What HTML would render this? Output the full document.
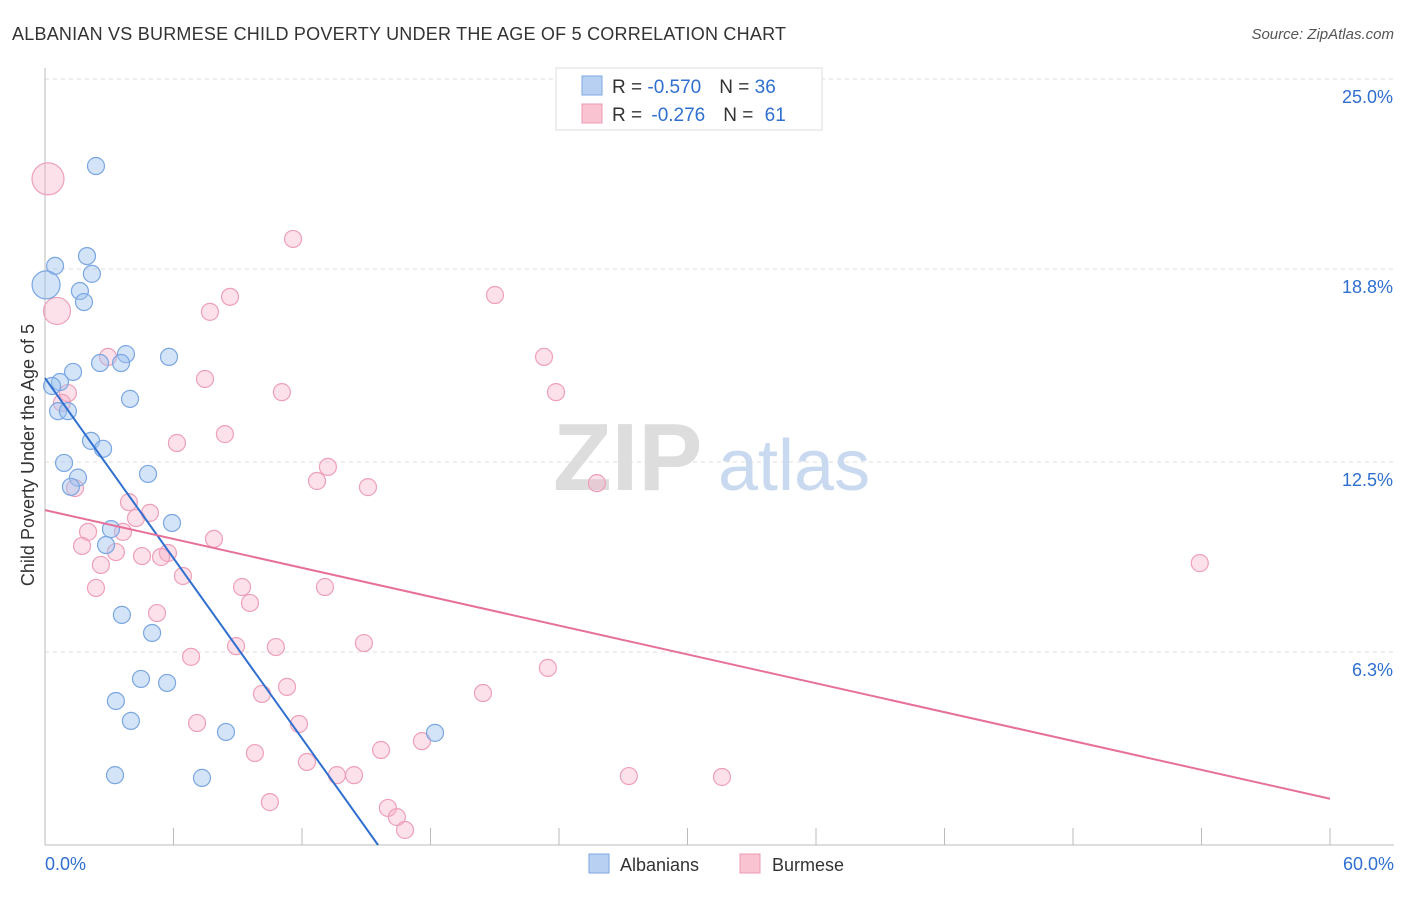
<!DOCTYPE html>
<html><head><meta charset="utf-8"><style>
body{margin:0;background:#fff;font-family:"Liberation Sans",sans-serif}
svg text{font-family:"Liberation Sans",sans-serif}
</style></head><body>
<svg width="1406" height="892" viewBox="0 0 1406 892">
<text x="12" y="40" font-size="18" fill="#333" textLength="774">ALBANIAN VS BURMESE CHILD POVERTY UNDER THE AGE OF 5 CORRELATION CHART</text>
<text x="1394" y="39" font-size="15" fill="#555" font-style="italic" text-anchor="end">Source: ZipAtlas.com</text>
<g id="grid"></g>
<g>
<text x="553" y="490" font-size="96" font-family="Liberation Serif" fill="#ddd" font-weight="bold">ZIP</text>
<text x="718" y="490" font-size="72" fill="#c9d9ef">atlas</text>
</g>
<g id="axes"></g>
<g id="pts"></g>
<g id="lines"></g>
<text transform="translate(34,455) rotate(-90)" font-size="18" fill="#333" text-anchor="middle">Child Poverty Under the Age of 5</text>
<g>
<rect x="556" y="68" width="266" height="62" fill="#fff" stroke="#ddd"/>
<rect x="582" y="76" width="20" height="19" fill="#b8d1f3" stroke="#7fa7e0"/>
<rect x="582" y="104" width="20" height="19" fill="#f9c3d2" stroke="#ec9ab2"/>
<text x="612" y="93" font-size="19" fill="#333">R = <tspan fill="#2f6fd0">-0.570</tspan><tspan dx="18">N = </tspan><tspan fill="#2f6fd0">36</tspan></text>
<text x="612" y="121" font-size="19" fill="#333">R = <tspan fill="#2f6fd0" dx="4">-0.276</tspan><tspan dx="18">N = </tspan><tspan fill="#2f6fd0" dx="6">61</tspan></text>
</g>
<g>
<rect x="589" y="854" width="20" height="19" fill="#b8d1f3" stroke="#7fa7e0"/>
<text x="620" y="871" font-size="18" fill="#333">Albanians</text>
<rect x="740" y="854" width="20" height="19" fill="#f9c3d2" stroke="#ec9ab2"/>
<text x="772" y="871" font-size="18" fill="#333">Burmese</text>
</g>
</svg>
<script>
const yTicks=[25.0,18.8,12.5,6.3];
const yTickLabels=["25.0%","18.8%","12.5%","6.3%"];
const xTickLabels=["0.0%","60.0%"];
const albX=[2.38,0.47,1.96,2.19,1.63,1.82,0.05,3.78,2.57,3.55,5.79,1.31,0.70,0.33,0.61,1.07,3.97,2.15,2.71,0.89,4.81,1.54,1.21,5.93,3.08,2.85,3.59,5.00,4.48,5.70,3.31,4.01,8.45,18.21,3.27,7.33];
const albY=[22.16,18.90,19.22,18.64,18.08,17.72,18.28,16.02,15.73,15.73,15.93,15.44,15.11,14.98,14.16,14.16,14.56,13.19,12.93,12.47,12.11,11.99,11.69,10.51,10.31,9.79,7.51,6.92,5.42,5.29,4.70,4.05,3.69,3.66,2.28,2.19];
const albBig=[6];
const burX=[0.14,0.56,11.58,8.64,7.70,21.01,23.30,2.94,7.47,11.06,23.86,1.07,0.79,8.40,6.16,13.21,12.70,15.08,25.77,1.40,3.92,4.90,4.25,2.01,3.64,1.73,7.89,3.31,4.53,5.74,5.42,2.61,6.44,53.92,2.38,9.20,13.07,9.57,5.23,14.89,8.92,10.78,6.82,23.48,11.30,10.13,20.45,7.10,11.86,9.80,15.69,17.60,12.23,13.63,14.43,27.26,31.61,10.50,16.01,16.43,16.81];
const burY=[21.74,17.43,19.78,17.89,17.40,17.95,15.93,15.93,15.21,14.78,14.78,14.75,14.43,13.41,13.12,12.34,11.88,11.68,11.81,11.65,11.19,10.84,10.67,10.22,10.22,9.76,9.99,9.56,9.43,9.53,9.40,9.14,8.78,9.20,8.39,8.42,8.42,7.90,7.57,6.59,6.49,6.46,6.14,5.78,5.16,4.93,4.96,3.98,3.95,3.00,3.10,3.39,2.71,2.28,2.28,2.25,2.22,1.40,1.21,0.91,0.49];
const burBig=[0,1];
const albTrend=[15.24,-0.98];
const burTrend=[10.93,-0.157];
const NS="http://www.w3.org/2000/svg";
const X0=45,X1=1330,Y0=845,YTOP=79;
const sx=v=>X0+(v/60)*(X1-X0);
const sy=v=>Y0-(v/25)*(Y0-YTOP);
function mk(t,a,p){const e=document.createElementNS(NS,t);for(const k in a)e.setAttribute(k,a[k]);p.appendChild(e);return e;}
const grid=document.getElementById('grid'),axes=document.getElementById('axes'),pts=document.getElementById('pts'),lines=document.getElementById('lines');
yTicks.forEach((v,i)=>{
 const l=mk('line',{x1:X0,x2:1394,y1:sy(v),y2:sy(v),stroke:'#ddd','stroke-dasharray':'4,4'},grid);
 
 
 const t=mk('text',{x:1393,y:sy(v)+24,'font-size':18,fill:'#2f6fd0','text-anchor':'end'},axes);
 t.textContent=yTickLabels[i];
 
 
});
const ax=mk('line',{x1:X0,x2:X0,y1:68,y2:Y0,stroke:'#bbb'},axes);


const bx=mk('line',{x1:X0,x2:1394,y1:Y0,y2:Y0,stroke:'#bbb'},axes);


for(let i=1;i<=10;i++){const tk=mk('line',{x1:sx(i*6),x2:sx(i*6),y1:828,y2:Y0,stroke:'#bbb'},axes);
 
 }
[[0,'start',45],[60,'end',1394]].forEach((d,i)=>{const t=mk('text',{x:d[2],y:870,'font-size':18,fill:'#2f6fd0','text-anchor':d[1]},axes);t.textContent=xTickLabels[i];
 
 });
burX.forEach((x,i)=>{const r=burBig.includes(i)?(i===0?16:13.5):8.5;
 const c=mk('circle',{cx:sx(x),cy:sy(burY[i]),r:r,fill:'rgba(247,170,195,0.35)',stroke:'#eea0b8','stroke-width':1.2},pts);
 
 });
albX.forEach((x,i)=>{const r=albBig.includes(i)?14:8.5;
 const c=mk('circle',{cx:sx(x),cy:sy(albY[i]),r:r,fill:'rgba(160,195,240,0.45)',stroke:'#7aa6e2','stroke-width':1.2},pts);
 
 });
const xe=-albTrend[0]/albTrend[1];
const l1=mk('line',{x1:sx(0),y1:sy(albTrend[0]),x2:sx(xe),y2:sy(0),stroke:'#2f6fd0','stroke-width':2},lines);


const l2=mk('line',{x1:sx(0),y1:sy(burTrend[0]),x2:sx(60),y2:sy(burTrend[0]+burTrend[1]*60),stroke:'#e6709a','stroke-width':2},lines);


</script>
</body></html>
